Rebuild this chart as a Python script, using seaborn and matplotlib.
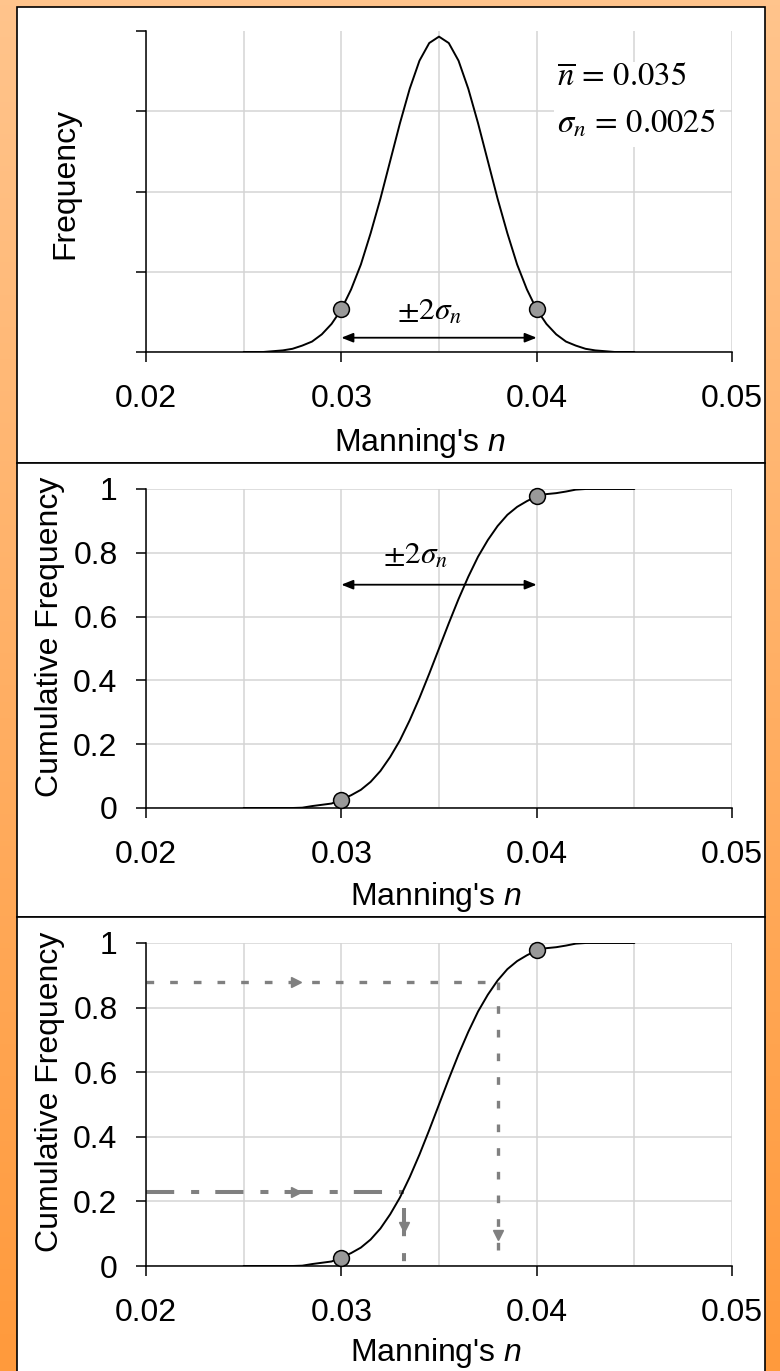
import numpy as np
import pandas as pd
import matplotlib
matplotlib.use("Agg")
import matplotlib.pyplot as plt
import seaborn as sns
from matplotlib.patches import Rectangle

# ---------------- data ----------------
n_grid = [0.0250, 0.0255, 0.0260, 0.0265, 0.0270, 0.0275, 0.0280, 0.0285, 0.0290, 0.0295,
          0.0300, 0.0305, 0.0310, 0.0315, 0.0320, 0.0325, 0.0330, 0.0335, 0.0340, 0.0345,
          0.0350, 0.0355, 0.0360, 0.0365, 0.0370, 0.0375, 0.0380, 0.0385, 0.0390, 0.0395,
          0.0400, 0.0405, 0.0410, 0.0415, 0.0420, 0.0425, 0.0430, 0.0435, 0.0440, 0.0445,
          0.0450]
frequency = [0.00, 0.00, 0.00, 0.01, 0.02, 0.04, 0.08, 0.13, 0.22, 0.35,
             0.53, 0.78, 1.09, 1.48, 1.91, 2.38, 2.85, 3.28, 3.63, 3.85,
             3.93, 3.85, 3.63, 3.28, 2.85, 2.38, 1.91, 1.48, 1.09, 0.78,
             0.53, 0.35, 0.22, 0.13, 0.08, 0.04, 0.02, 0.01, 0.00, 0.00,
             0.00]
cumulative = [0.000, 0.000, 0.000, 0.000, 0.000, 0.000, 0.001, 0.006, 0.010, 0.014,
              0.026, 0.040, 0.057, 0.082, 0.116, 0.160, 0.212, 0.275, 0.345, 0.421,
              0.500, 0.579, 0.655, 0.725, 0.788, 0.840, 0.884, 0.919, 0.944, 0.962,
              0.977, 0.984, 0.987, 0.992, 0.998, 1.000, 1.000, 1.000, 1.000, 1.000,
              1.000]
marker_n = [0.030, 0.040]
marker_freq = [0.53, 0.53]
marker_cum = [0.026, 0.977]
guide_levels = [0.88, 0.23]        # cumulative frequency read-offs
guide_n = [0.038, 0.0332]          # resulting Manning's n
x_ticks = [0.02, 0.03, 0.04, 0.05]
x_ticklabels = ["0.02", "0.03", "0.04", "0.05"]
x_minor = [0.025, 0.035, 0.045]
cum_ticks = [0, 0.2, 0.4, 0.6, 0.8, 1.0]
cum_ticklabels = ["0", "0.2", "0.4", "0.6", "0.8", "1"]

df = pd.DataFrame({"n": n_grid, "freq": frequency, "cum": cumulative})

# ---------------- style ----------------
sns.set_theme(style="white", rc={
    "text.color": "black", "axes.labelcolor": "black",
    "xtick.color": "black", "ytick.color": "black",
    "axes.edgecolor": "black",
})
plt.rcParams["font.family"] = ["Liberation Sans", "DejaVu Sans"]
plt.rcParams["mathtext.fontset"] = "custom"
plt.rcParams["mathtext.rm"] = "Liberation Sans"
plt.rcParams["mathtext.it"] = "Liberation Sans:italic"

W, H = 780, 1371
fig = plt.figure(figsize=(W / 100, H / 100), dpi=100)

# orange gradient background
bg = fig.add_axes([0, 0, 1, 1], zorder=-10)
top_c = np.array([255, 196, 140]) / 255
bot_c = np.array([255, 154, 60]) / 255
t = np.linspace(0, 1, 256)[:, None, None]
img = top_c[None, None, :] + (bot_c - top_c)[None, None, :] * t
bg.imshow(img, aspect="auto", extent=[0, 1, 0, 1])
bg.axis("off")

# white panels
for ytop, ybot in [(7, 463), (463, 917), (917, 1400)]:
    fig.add_artist(Rectangle((17 / W, 1 - ybot / H), (765 - 17) / W, (ybot - ytop) / H,
                             transform=fig.transFigure, facecolor="white",
                             edgecolor="black", lw=1.2, zorder=-5))

FS = 23
GRID = "#d4d4d4"
MATH_FS = 23.5
PM_FS = 22.5


def make_ax(top_px, bot_px):
    ax = fig.add_axes([146 / W, 1 - bot_px / H, (732 - 146) / W, (bot_px - top_px) / H])
    ax.set_facecolor("none")
    ax.set_xlim(0.02, 0.05)
    ax.set_xticks(x_ticks)
    ax.set_xticklabels(x_ticklabels)
    ax.set_xticks(x_minor, minor=True)
    ax.set_axisbelow(True)
    ax.grid(True, which="both", axis="x", color=GRID, lw=1.1)
    ax.grid(True, which="major", axis="y", color=GRID, lw=1.1)
    ax.tick_params(axis="x", which="major", bottom=True, direction="out", length=7.2,
                   width=1.1, pad=16, labelsize=FS)
    ax.tick_params(axis="x", which="minor", length=0)
    ax.tick_params(axis="y", left=True, direction="out", length=7.5, width=1.1,
                   pad=13, labelsize=FS)
    for s in ["top", "right"]:
        ax.spines[s].set_visible(False)
    for s in ["left", "bottom"]:
        ax.spines[s].set_color("black")
        ax.spines[s].set_linewidth(1.1)
    return ax


# ---------- panel 1: frequency ----------
ax1 = make_ax(31, 352)
ax1.set_ylim(0, 4)
ax1.set_yticks([0, 1, 2, 3, 4])
ax1.set_yticklabels([])
ax1.yaxis.get_gridlines()[-1].set_visible(False)
sns.lineplot(data=df, x="n", y="freq", ax=ax1, color="black", lw=1.4, zorder=3)
sns.scatterplot(x=marker_n, y=marker_freq, ax=ax1, s=130, color="#999999",
                edgecolor="black", linewidth=1.1, zorder=5)
ax1.annotate("", xy=(marker_n[1], 0.178), xytext=(marker_n[0], 0.178),
             arrowprops=dict(arrowstyle="<|-|>,head_length=0.5,head_width=0.2",
                             color="black", lw=1.3, shrinkA=0, shrinkB=0,
                             mutation_scale=14))
ax1.text(0.0345, 0.40, r"$\pm 2\sigma_n$", ha="center", va="baseline", fontsize=PM_FS,
         math_fontfamily="stix", zorder=4)
ax1.add_patch(Rectangle((0.0409, 2.55), 0.0085, 1.06, facecolor="white",
                        edgecolor="none", zorder=1))
ax1.text(0.04104, 3.31, r"$\overline{n}\,=\,0.035$", ha="left", va="baseline",
         fontsize=MATH_FS, math_fontfamily="stix", zorder=4)
ax1.text(0.04104, 2.74, r"$\sigma_n\,=\,0.0025$", ha="left", va="baseline",
         fontsize=MATH_FS, math_fontfamily="stix", zorder=4)
ax1.set_xlabel("")
ax1.set_ylabel("")

# ---------- panel 2: cumulative ----------
ax2 = make_ax(489, 808)
ax2.set_ylim(0, 1)
ax2.set_yticks(cum_ticks)
ax2.set_yticklabels(cum_ticklabels)
sns.lineplot(data=df, x="n", y="cum", ax=ax2, color="black", lw=1.4, zorder=3)
sns.scatterplot(x=marker_n, y=marker_cum, ax=ax2, s=130, color="#999999",
                edgecolor="black", linewidth=1.1, zorder=5, clip_on=False)
ax2.annotate("", xy=(marker_n[1], 0.70), xytext=(marker_n[0], 0.70),
             arrowprops=dict(arrowstyle="<|-|>,head_length=0.5,head_width=0.2",
                             color="black", lw=1.3, shrinkA=0, shrinkB=0,
                             mutation_scale=14))
ax2.text(0.0338, 0.765, r"$\pm 2\sigma_n$", ha="center", va="baseline", fontsize=PM_FS,
         math_fontfamily="stix", zorder=4)
ax2.set_xlabel("")
ax2.set_ylabel("")

# ---------- panel 3: cumulative with read-offs ----------
ax3 = make_ax(943, 1266)
ax3.set_ylim(0, 1)
ax3.set_yticks(cum_ticks)
ax3.set_yticklabels(cum_ticklabels)
GUIDE = "#808080"
# dotted read-off at 0.88
ax3.plot([0.02, guide_n[0]], [guide_levels[0], guide_levels[0]], color=GUIDE, lw=2.4,
         dashes=(2.3, 4.8), zorder=2)
ax3.plot([guide_n[0], guide_n[0]], [guide_levels[0], 0], color=GUIDE, lw=2.4,
         dashes=(2.3, 4.8), zorder=2)
# dash-dot read-off at 0.23
ax3.plot([0.02, guide_n[1]], [guide_levels[1], guide_levels[1]], color=GUIDE, lw=2.9,
         dashes=(7, 4.2, 2, 4), zorder=2)
ax3.plot([guide_n[1], guide_n[1]], [0.18, 0], color=GUIDE, lw=2.9,
         dashes=(7, 4.2, 2, 4), zorder=2)
# small arrow heads
ax3.plot([0.0277], [guide_levels[0]], marker=">", ms=7, color=GUIDE, zorder=2)
ax3.plot([0.0277], [guide_levels[1]], marker=">", ms=7, color=GUIDE, zorder=2)
ax3.plot([guide_n[0]], [0.095], marker="v", ms=7, color=GUIDE, zorder=2)
ax3.plot([guide_n[1]], [0.12], marker="v", ms=7, color=GUIDE, zorder=2)
sns.lineplot(data=df, x="n", y="cum", ax=ax3, color="black", lw=1.4, zorder=3)
sns.scatterplot(x=marker_n, y=marker_cum, ax=ax3, s=130, color="#999999",
                edgecolor="black", linewidth=1.1, zorder=5, clip_on=False)
ax3.set_xlabel("")
ax3.set_ylabel("")

# ---------- axis titles ----------
for (xc, yc) in [(420, 443), (436, 897), (436, 1353)]:
    fig.text(xc / W, 1 - yc / H, "Manning's $n$", ha="center", va="center", fontsize=FS)
fig.text(65 / W, 1 - 183.5 / H, "Frequency", rotation=90, ha="center", va="center",
         fontsize=FS)
for (xc, yc) in [(50, 637), (50, 1092)]:
    fig.text(xc / W, 1 - yc / H, "Cumulative Frequency", rotation=90, ha="center",
             va="center", fontsize=FS)

fig.savefig("out.png", dpi=100)
